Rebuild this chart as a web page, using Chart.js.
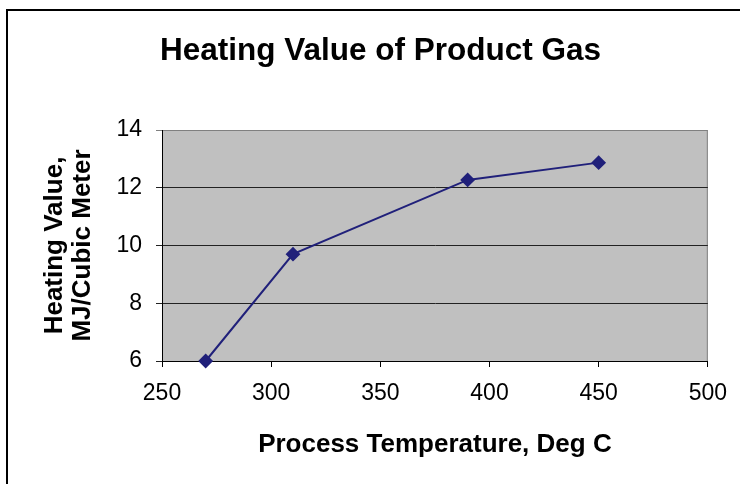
<!DOCTYPE html>
<html>
<head>
<meta charset="utf-8">
<script src="https://cdn.jsdelivr.net/npm/chart.js@4/dist/chart.umd.min.js"></script>
<style>
  html, body { margin: 0; padding: 0; background: #fff; }
  #wrap { width: 740px; height: 484px; position: relative; }
</style>
</head>
<body>
<div id="wrap"><canvas id="chart" width="740" height="484"></canvas></div>
<script>
// data
const temperatures = [270, 310, 390, 450];
const heatingValues = [6.0, 9.7, 12.27, 12.87];
const xTicks = [250, 300, 350, 400, 450, 500];
const yTicks = [6, 8, 10, 12, 14];

const TITLE = 'Heating Value of Product Gas';
const FONT = "'Liberation Sans', Arial, sans-serif";
const LINE_COLOR = '#20207a';

// white page, outer chart frame, grey plot area
const frame = {
  id: 'frame',
  beforeDraw(chart) {
    const { ctx, chartArea: a } = chart;
    ctx.save();
    ctx.fillStyle = '#fff';
    ctx.fillRect(0, 0, chart.width, chart.height);
    ctx.strokeStyle = '#000';
    ctx.lineWidth = 2;
    ctx.strokeRect(7, 10, 900, 700);
    ctx.fillStyle = '#c0c0c0';
    ctx.fillRect(a.left, a.top, a.right - a.left, a.bottom - a.top);
    ctx.strokeStyle = '#808080';
    ctx.lineWidth = 1;
    ctx.beginPath();
    ctx.moveTo(a.left, a.top + 0.5);
    ctx.lineTo(a.right - 0.5, a.top + 0.5);
    ctx.lineTo(a.right - 0.5, a.bottom);
    ctx.stroke();
    ctx.restore();
  },
  // chart title sits a bit right of the canvas centre in the original
  afterDraw(chart) {
    const ctx = chart.ctx;
    ctx.save();
    ctx.fillStyle = '#000';
    ctx.font = 'bold 31.5px ' + FONT;
    ctx.textAlign = 'center';
    ctx.textBaseline = 'middle';
    ctx.fillText(TITLE, 380.5, 51);
    ctx.restore();
  }
};

new Chart(document.getElementById('chart'), {
  type: 'scatter',
  data: {
    datasets: [{
      data: temperatures.map((t, i) => ({ x: t, y: heatingValues[i] })),
      showLine: true,
      borderColor: LINE_COLOR,
      backgroundColor: LINE_COLOR,
      borderWidth: 2,
      pointStyle: 'rectRot',
      pointRadius: 6,
      pointHoverRadius: 6,
      clip: false
    }]
  },
  options: {
    responsive: false,
    animation: false,
    layout: { padding: { top: 130, right: 31, bottom: 0, left: 0 } },
    plugins: {
      legend: { display: false },
      tooltip: { enabled: false },
      title: { display: false }
    },
    scales: {
      x: {
        type: 'linear',
        min: xTicks[0],
        max: xTicks[xTicks.length - 1],
        afterBuildTicks: s => { s.ticks = xTicks.map(v => ({ value: v })); },
        afterFit: s => { s.height = 123; },
        border: { color: '#000', width: 1 },
        grid: { drawOnChartArea: false, drawTicks: true, tickLength: 6, color: '#000' },
        ticks: { color: '#000', padding: 13, font: { family: FONT, size: 23 } },
        title: {
          display: true,
          text: 'Process Temperature, Deg C',
          color: '#000',
          font: { family: FONT, size: 26, weight: 'bold', lineHeight: 1.2 },
          padding: { top: 0, bottom: 24 }
        }
      },
      y: {
        min: yTicks[0],
        max: yTicks[yTicks.length - 1],
        afterBuildTicks: s => { s.ticks = yTicks.map(v => ({ value: v })); },
        afterFit: s => { s.width = 162; },
        border: { color: '#000', width: 1 },
        grid: {
          drawTicks: true,
          tickLength: 6,
          color: c => (c.tick && c.tick.value === 14 ? '#808080' : '#222')
        },
        ticks: { color: '#000', padding: 14, font: { family: FONT, size: 23 } },
        title: {
          display: true,
          text: ['Heating Value,', 'MJ/Cubic Meter'],
          color: '#000',
          font: { family: FONT, size: 26, weight: 'bold', lineHeight: 1.08 },
          padding: { top: 41, bottom: 0 }
        }
      }
    }
  },
  plugins: [frame]
});
</script>
</body>
</html>
